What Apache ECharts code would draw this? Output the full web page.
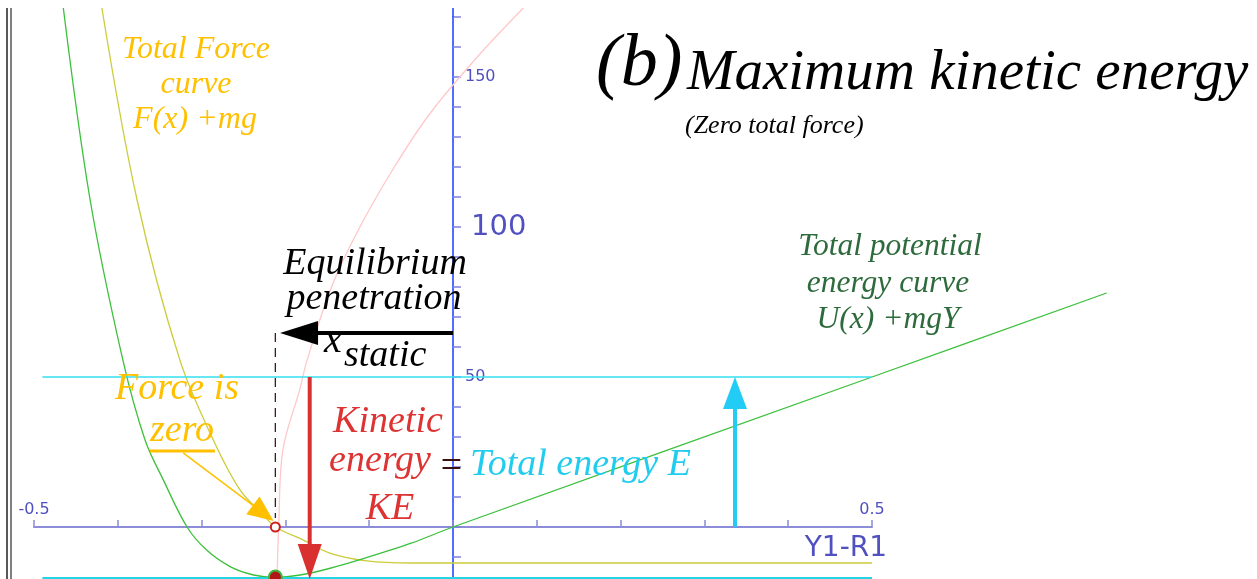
<!DOCTYPE html>
<html>
<head>
<meta charset="utf-8">
<title>Maximum kinetic energy</title>
<script src="https://cdn.jsdelivr.net/npm/echarts@6/dist/echarts.min.js"></script>
<style>
  html, body { margin: 0; padding: 0; background: #fff; }
  #chart { width: 1257px; height: 579px; }
</style>
</head>
<body>
<div id="chart"></div>
<script>
// axis labels shown
const xTickLabels = [-0.5, 0.5]
const yTickLabels = [50, 100, 150]

// curves, [x, y]
const totalPotential = [
  [-0.465, 173], [-0.433, 109], [-0.394, 55.7], [-0.3675, 29], [-0.3457, 15.7],
  [-0.3174, 0], [-0.294, -7.7], [-0.266, -13.2], [-0.238, -16], [-0.212, -16.8],
  [-0.1826, -16], [-0.15, -14], [-0.11, -10.8], [-0.05, -5.4],
  [0, 0], [0.5, 50], [0.78, 78]
]
const totalForce = [
  [-0.419, 173], [-0.377, 109], [-0.326, 55.7], [-0.286, 29], [-0.254, 12.3],
  [-0.226, 4], [-0.212, 0], [-0.179, -4.3], [-0.147, -8.7], [-0.103, -11.3],
  [-0.05, -12], [0, -12], [0.5, -12]
]
const pinkCurve = [
  [-0.21, -17.3], [-0.208, 0], [-0.203, 25.7], [-0.183, 45.7], [-0.174, 55.7],
  [-0.145, 80], [-0.113, 99], [-0.07, 120], [-0.027, 138], [0.03, 157], [0.084, 173]
]

// energy levels
const totalEnergyLine = [[-0.49, 50], [0.5, 50]]
const bottomLine = [[-0.49, -17], [0.5, -17]]

// markers
const equilibriumPoint = [[-0.212, 0]]
const minimumPoint = [[-0.212, -16.7]]
const staticDash = [[-0.212, 64.7], [-0.212, 3]]

// arrows [x1, y1, x2, y2] (tip at x2, y2)
const keArrow = [[-0.171, 50, -0.171, -17.3]]
const energyArrow = [[0.3365, 0, 0.3365, 50]]
const xStaticArrow = [[0, 64.7, -0.2064, 64.7]]
const forceZeroArrow = [[-0.322, 24.7, -0.214, 2]]

const arrowSeries = (data, color, width, headLen, headWidth) => ({
  type: 'custom',
  xAxisIndex: 2,
  yAxisIndex: 2,
  clip: false,
  z: 5,
  data: data,
  renderItem: (params, api) => {
    const a = api.coord([api.value(0), api.value(1)])
    const b = api.coord([api.value(2), api.value(3)])
    const dx = b[0] - a[0], dy = b[1] - a[1]
    const len = Math.sqrt(dx * dx + dy * dy)
    const ux = dx / len, uy = dy / len
    const base = [b[0] - ux * headLen, b[1] - uy * headLen]
    const px = -uy * headWidth / 2, py = ux * headWidth / 2
    return {
      type: 'group',
      children: [
        {
          type: 'line',
          shape: { x1: a[0], y1: a[1], x2: base[0] + ux, y2: base[1] + uy },
          style: { stroke: color, lineWidth: width }
        },
        {
          type: 'polygon',
          shape: { points: [b, [base[0] + px, base[1] + py], [base[0] - px, base[1] - py]] },
          style: { fill: color }
        }
      ]
    }
  }
})

const curve = (data, color, z) => ({
  type: 'line', xAxisIndex: 2, yAxisIndex: 2, data: data, clip: false,
  smooth: 0.35, showSymbol: false, lineStyle: { color: color, width: 1.3 }, z: z
})

const serif = '"Liberation Serif", "DejaVu Serif", serif'
// y given as text baseline
const txt = (text, x, baseline, size, color, align) => ({
  type: 'text',
  x: x,
  y: baseline - 0.8 * size,
  z: 100,
  style: {
    text: text,
    font: 'italic ' + size + 'px ' + serif,
    fill: color,
    align: align || 'center',
    verticalAlign: 'top'
  }
})

const hidden = { show: false }
const chart = echarts.init(document.getElementById('chart'))

chart.setOption({
  animation: false,
  backgroundColor: '#fff',
  grid: [
    // x axis display (bottom edge at y = 0)
    { left: 34, top: 17, width: 838, height: 510, outerBoundsMode: 'none', containLabel: false },
    // y axis display (left edge at x = 0)
    { left: 453, top: 17, width: 419, height: 570, outerBoundsMode: 'none', containLabel: false },
    // data
    { left: 34, top: 17, width: 1223.48, height: 570, outerBoundsMode: 'none', containLabel: false }
  ],
  xAxis: [
    {
      gridIndex: 0,
      type: 'value',
      min: -0.5,
      max: 0.5,
      interval: 0.1,
      axisLine: { onZero: false, lineStyle: { color: '#8c8cd8', width: 2 } },
      axisTick: { inside: true, length: 7, lineStyle: { color: '#8c8cd8', width: 1.5 } },
      axisLabel: {
        inside: true,
        margin: 9,
        color: '#5050c0',
        fontSize: 16,
        fontFamily: 'DejaVu Sans',
        formatter: v => xTickLabels.some(t => Math.abs(t - v) < 1e-9) ? String(v) : ''
      },
      splitLine: hidden
    },
    { gridIndex: 1, type: 'value', min: 0, max: 0.5, show: false },
    { gridIndex: 2, type: 'value', min: -0.5, max: 0.96, show: false }
  ],
  yAxis: [
    { gridIndex: 0, type: 'value', min: 0, max: 170, show: false },
    {
      gridIndex: 1,
      type: 'value',
      min: -20,
      max: 170,
      interval: 10,
      position: 'left',
      axisLine: { onZero: false, lineStyle: { color: '#1a3cff', width: 1.5 } },
      axisTick: { inside: true, length: 8, lineStyle: { color: '#8080dd', width: 1.5 } },
      axisLabel: {
        inside: true,
        margin: 12,
        color: '#5050c0',
        fontFamily: 'DejaVu Sans',
        formatter: v => yTickLabels.includes(v) ? (v === 100 ? '{b|' + v + '}' : '{s|' + v + '}') : '',
        rich: {
          s: { fontSize: 16, color: '#5050c0', fontFamily: 'DejaVu Sans' },
          b: { fontSize: 29, color: '#5050c0', fontFamily: 'DejaVu Sans', padding: [0, 0, 0, 6] }
        }
      },
      splitLine: hidden
    },
    { gridIndex: 2, type: 'value', min: -20, max: 170, show: false }
  ],
  series: [
    curve(pinkCurve, '#ffc8c8', 1),
    curve(totalForce, '#cccc3a', 2),
    curve(totalPotential, '#3cc03c', 2),
    {
      type: 'line', xAxisIndex: 2, yAxisIndex: 2, data: totalEnergyLine, clip: false, showSymbol: false,
      lineStyle: { color: '#33e0f0', width: 1.5 }, z: 3
    },
    {
      type: 'line', xAxisIndex: 2, yAxisIndex: 2, data: bottomLine, clip: false, showSymbol: false,
      lineStyle: { color: '#22d4e4', width: 2 }, z: 3
    },
    {
      type: 'line', xAxisIndex: 2, yAxisIndex: 2, data: staticDash, clip: false, showSymbol: false,
      lineStyle: { color: '#3a2020', width: 1.3, type: [9, 6] }, z: 3
    },
    arrowSeries(keArrow, '#d93030', 4, 35, 24),
    arrowSeries(energyArrow, '#22ccf5', 4, 32, 24),
    arrowSeries(xStaticArrow, '#000000', 4, 38, 24),
    arrowSeries(forceZeroArrow, '#ffc000', 1.5, 26, 22),
    {
      type: 'scatter', xAxisIndex: 2, yAxisIndex: 2, data: minimumPoint, clip: false, symbolSize: 13, z: 6,
      itemStyle: { color: '#b01818', borderColor: '#3cb83c', borderWidth: 2, opacity: 1 }
    },
    {
      type: 'scatter', xAxisIndex: 2, yAxisIndex: 2, data: equilibriumPoint, clip: false, symbolSize: 9, z: 6,
      itemStyle: { color: '#ffffff', borderColor: '#cc2020', borderWidth: 2, opacity: 1 }
    }
  ],
  graphic: [
    // left frame
    { type: 'line', z: 100, shape: { x1: 7, y1: 8, x2: 7, y2: 579 }, style: { stroke: '#222', lineWidth: 1.5 } },
    { type: 'line', z: 100, shape: { x1: 11, y1: 8, x2: 11, y2: 579 }, style: { stroke: '#555', lineWidth: 1.5 } },
    // y axis above grid top
    { type: 'line', z: 100, shape: { x1: 453, y1: 8, x2: 453, y2: 17 }, style: { stroke: '#1a3cff', lineWidth: 1.5 } },
    // title
    txt('(b)', 596, 88, 74, '#000', 'left'),
    txt('Maximum kinetic energy', 687, 91, 57, '#000', 'left'),
    txt('(Zero total force)', 685, 134, 26, '#000', 'left'),
    // total force label
    txt('Total Force', 196, 59, 32, '#ffc000'),
    txt('curve', 196, 94, 32, '#ffc000'),
    txt('F(x) +mg', 195, 129, 32, '#ffc000'),
    // potential energy label
    txt('Total potential', 890, 256, 31.5, '#2e6b3c'),
    txt('energy curve', 888, 293, 31.5, '#2e6b3c'),
    txt('U(x) +mgY', 888, 329, 31.5, '#2e6b3c'),
    // equilibrium label
    txt('Equilibrium', 375, 275, 38, '#000'),
    txt('penetration', 374, 310, 38, '#000'),
    txt('x', 333, 353, 40, '#000'),
    txt('static', 344, 367, 38, '#000', 'left'),
    // force is zero
    txt('Force is', 177, 400, 38, '#ffc000'),
    txt('zero', 182, 442, 38, '#ffc000'),
    { type: 'line', z: 100, shape: { x1: 150, y1: 451, x2: 215, y2: 451 }, style: { stroke: '#ffc000', lineWidth: 3 } },
    // kinetic energy
    txt('Kinetic', 388, 433, 38, '#dd3333'),
    txt('energy', 380, 472, 38, '#dd3333'),
    txt('KE', 390, 520, 38, '#dd3333'),
    txt('=', 451, 478, 38, '#3a1010'),
    txt('Total energy E', 470, 476, 38, '#22ccee', 'left'),
    // axis name
    {
      type: 'text', z: 100, x: 887, y: 535,
      style: { text: 'Y1-R1', font: '28px "DejaVu Sans"', fill: '#5050c0', align: 'right', verticalAlign: 'top' }
    }
  ]
})
</script>
</body>
</html>
